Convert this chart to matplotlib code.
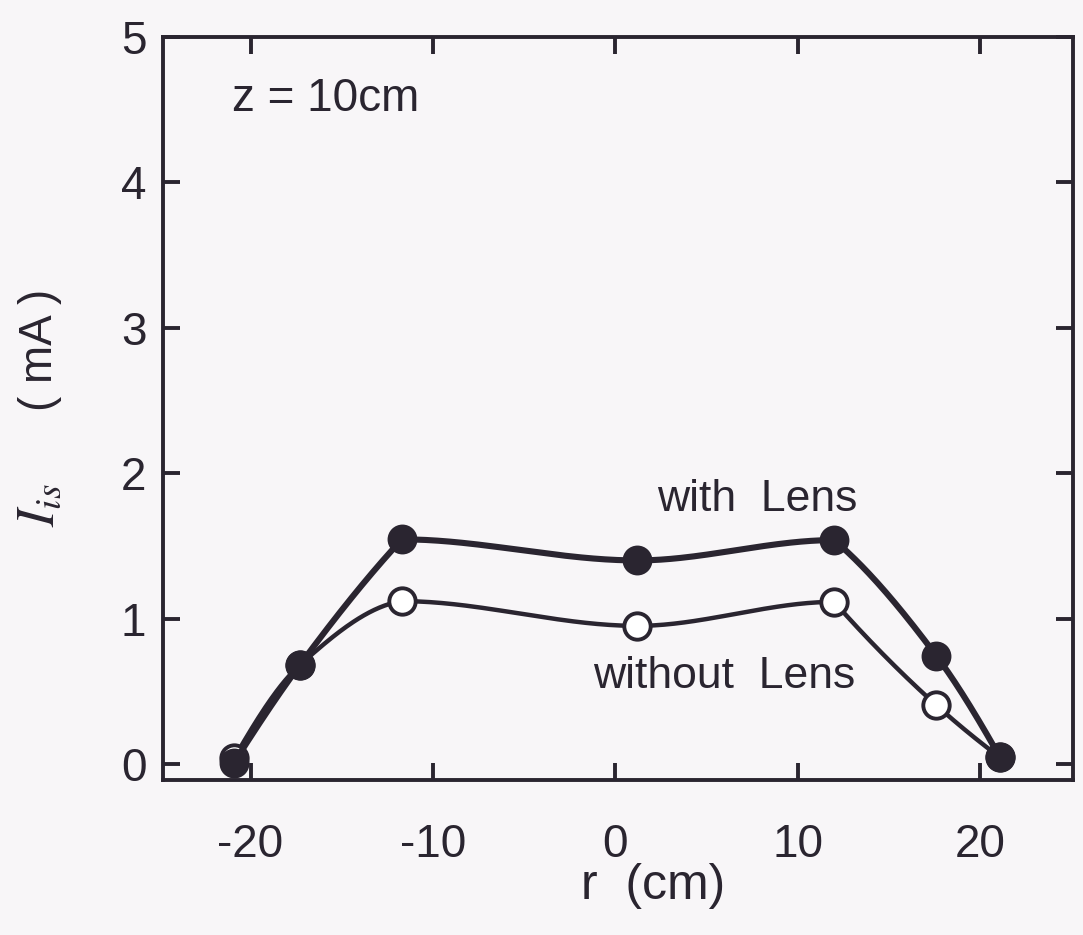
import numpy as np
import matplotlib
matplotlib.use("Agg")
import matplotlib.pyplot as plt

# Ion saturation current profile at z = 10 cm
r_cm = [-20.9, -17.3, -11.7, 1.2, 12.0, 17.6, 21.1]
with_lens = [0.01, 0.68, 1.545, 1.40, 1.54, 0.745, 0.045]
without_lens = [0.04, 0.68, 1.12, 0.95, 1.115, 0.405, 0.045]

x_ticks = [-20, -10, 0, 10, 20]
x_ticklabels = ["-20", "-10", "0", "10", "20"]
y_ticks = [0, 1, 2, 3, 4, 5]

ink = "#2a2530"
bg = "#f8f6f8"

plt.rcParams["font.family"] = ["Liberation Sans", "DejaVu Sans"]
plt.rcParams["mathtext.fontset"] = "stix"
plt.rcParams["axes.unicode_minus"] = False


def pchip(x, y, flat_ends=False, n=60):
    # monotone cubic Hermite curve through the points (Fritsch-Carlson)
    x = np.asarray(x, float)
    y = np.asarray(y, float)
    h = np.diff(x)
    d = np.diff(y) / h
    m = np.zeros_like(y)
    for k in range(1, len(x) - 1):
        if d[k - 1] * d[k] > 0:
            w1 = 2 * h[k] + h[k - 1]
            w2 = h[k] + 2 * h[k - 1]
            m[k] = (w1 + w2) / (w1 / d[k - 1] + w2 / d[k])

    def end_slope(h0, h1, d0, d1):
        s = ((2 * h0 + h1) * d0 - h0 * d1) / (h0 + h1)
        if np.sign(s) != np.sign(d0):
            return 0.0
        if np.sign(d0) != np.sign(d1) and abs(s) > abs(3 * d0):
            return 3 * d0
        return s

    if not flat_ends:
        m[0] = end_slope(h[0], h[1], d[0], d[1])
        m[-1] = end_slope(h[-1], h[-2], d[-1], d[-2])

    xs, ys = [], []
    t = np.linspace(0, 1, n)
    for k in range(len(h)):
        h00 = 2 * t**3 - 3 * t**2 + 1
        h10 = t**3 - 2 * t**2 + t
        h01 = -2 * t**3 + 3 * t**2
        h11 = t**3 - t**2
        xs.append(x[k] + t * h[k])
        ys.append(h00 * y[k] + h10 * h[k] * m[k] + h01 * y[k + 1] + h11 * h[k] * m[k + 1])
    return np.concatenate(xs), np.concatenate(ys)


def profile_curve(x, y):
    # outer wings and the flat centre are joined piece by piece
    parts = [pchip(x[0:3], y[0:3]),
             pchip(x[2:5], y[2:5], flat_ends=True),
             pchip(x[4:7], y[4:7])]
    return np.concatenate([p[0] for p in parts]), np.concatenate([p[1] for p in parts])


fig = plt.figure(figsize=(10.83, 9.35), dpi=100, facecolor=bg)
ax = fig.add_axes([0.1505, 0.1658, 0.8403, 0.7946])
ax.set_facecolor(bg)

cx, cy = profile_curve(r_cm, without_lens)
ax.plot(cx, cy, color=ink, lw=3.2, zorder=2, solid_capstyle="round")
ax.plot(r_cm, without_lens, "o", ms=19, mfc="white", mec=ink, mew=2.8, zorder=3)

cx, cy = profile_curve(r_cm, with_lens)
ax.plot(cx, cy, color=ink, lw=4.4, zorder=4, solid_capstyle="round")
ax.plot(r_cm, with_lens, "o", ms=20, mfc=ink, mec=ink, mew=1.5, zorder=5)

ax.set_xlim(-24.8, 25.1)
ax.set_ylim(-0.11, 5.0)
ax.set_xticks(x_ticks)
ax.set_xticklabels(x_ticklabels)
ax.set_yticks(y_ticks)

for s in ax.spines.values():
    s.set_linewidth(2.8)
    s.set_color(ink)
ax.tick_params(axis="both", direction="in", length=12, width=2.8, color=ink,
               labelcolor=ink, labelsize=33, top=True, right=True)
ax.tick_params(axis="x", pad=31)
ax.tick_params(axis="y", pad=12)

ax.text(-21.0, 4.49, "z = 10cm", fontsize=33, color=ink, va="baseline")
ax.text(2.3, 1.74, "with  Lens", fontsize=32, color=ink, va="baseline")
ax.text(-1.2, 0.52, "without  Lens", fontsize=32, color=ink, va="baseline")

fig.text(653 / 1083, 1 - 886 / 935, "r  (cm)", fontsize=36, color=ink,
         ha="center", va="center")
fig.text(40 / 1083, 1 - 505 / 935, r"$I_{is}$", fontsize=38, color=ink,
         ha="center", va="center", rotation=90)
fig.text(40 / 1083, 1 - 350 / 935, "( mA )", fontsize=33, color=ink,
         ha="center", va="center", rotation=90)

fig.savefig("out.png", dpi=100, facecolor=bg)
